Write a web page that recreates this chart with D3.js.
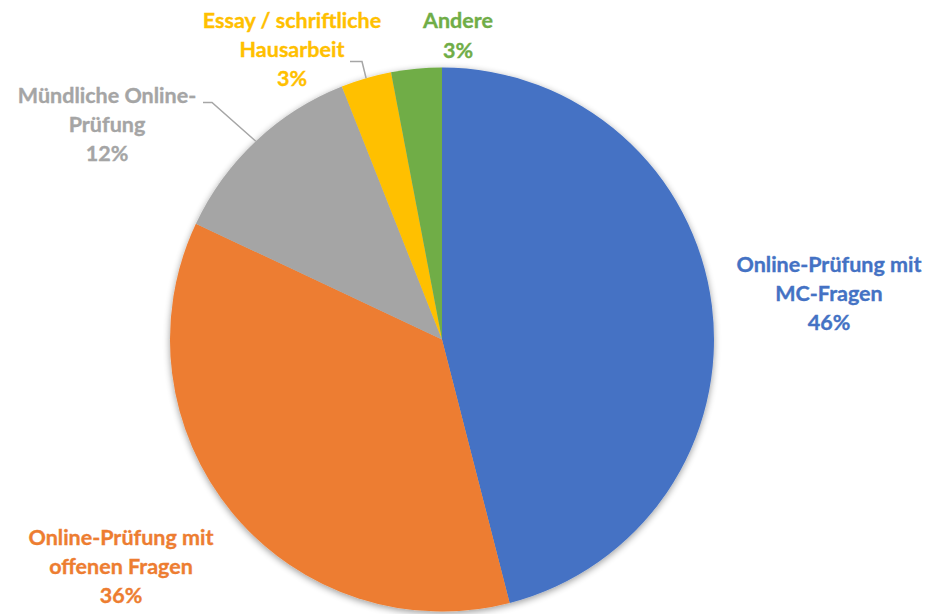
<!DOCTYPE html>
<html>
<head>
<meta charset="utf-8">
<script src="https://cdn.jsdelivr.net/npm/d3@7"></script>
<style>
  html, body { margin: 0; padding: 0; background: #ffffff; }
  svg { display: block; }
  text { font-family: Lato, "Open Sans", sans-serif; font-weight: 700; }
</style>
</head>
<body>
<svg id="chart" width="929" height="614"></svg>
<script>
// Exam formats (share of responses, %)
const categories = [
  "Online-Prüfung mit MC-Fragen",
  "Online-Prüfung mit offenen Fragen",
  "Mündliche Online-Prüfung",
  "Essay / schriftliche Hausarbeit",
  "Andere"
];
const shares = [46, 36, 12, 3, 3];
const labelLines = [
  ["Online-Prüfung mit", "MC-Fragen"],
  ["Online-Prüfung mit", "offenen Fragen"],
  ["Mündliche Online-", "Prüfung"],
  ["Essay / schriftliche", "Hausarbeit"],
  ["Andere"]
];
const colors = ["#4472C4", "#ED7D31", "#A5A5A5", "#FFC000", "#70AD47"];

const width = 929, height = 614;
const cx = 442, cy = 339.5, radius = 272;

// Label placement: centre of the text block relative to the pie centre,
// plus optional leader line (horizontal stub start/end, relative to pie centre)
const labelPlacement = [
  { dx: 387, dy: -42 },
  { dx: -321, dy: 231 },
  { dx: -335, dy: -211, leader: { x0: -239, x1: -230, y: -237 } },
  { dx: -150, dy: -286, leader: { x0: -92, x1: -80, y: -278 } },
  { dx: 16, dy: -300 }
];

const svg = d3.select("#chart");

const defs = svg.append("defs");
const shadow = defs.append("filter")
  .attr("id", "pieShadow")
  .attr("x", "-10%").attr("y", "-10%")
  .attr("width", "120%").attr("height", "120%");
shadow.append("feGaussianBlur").attr("in", "SourceAlpha").attr("stdDeviation", 3.5).attr("result", "blur");
shadow.append("feOffset").attr("in", "blur").attr("dx", 0).attr("dy", 1.5).attr("result", "off");
shadow.append("feComponentTransfer").attr("in", "off").attr("result", "soft")
  .append("feFuncA").attr("type", "linear").attr("slope", 0.4);
const merge = shadow.append("feMerge");
merge.append("feMergeNode").attr("in", "soft");
merge.append("feMergeNode").attr("in", "SourceGraphic");

const data = categories.map((c, i) => ({ name: c, value: shares[i], idx: i }));

const pie = d3.pie().value(d => d.value).sort(null);
const arcs = pie(data);
const arc = d3.arc().innerRadius(0).outerRadius(radius);

const g = svg.append("g").attr("transform", `translate(${cx},${cy})`);

g.append("g").attr("filter", "url(#pieShadow)")
  .selectAll("path")
  .data(arcs)
  .join("path")
  .attr("d", arc)
  .attr("fill", d => colors[d.data.idx]);

// Leader lines from label to the slice's outer edge at its mid angle
arcs.forEach(a => {
  const p = labelPlacement[a.data.idx];
  if (!p.leader) return;
  const mid = (a.startAngle + a.endAngle) / 2;
  const ex = radius * Math.sin(mid), ey = -radius * Math.cos(mid);
  g.append("polyline")
    .attr("points", `${p.leader.x0},${p.leader.y} ${p.leader.x1},${p.leader.y} ${ex},${ey}`)
    .attr("fill", "none")
    .attr("stroke", "#A6A6A6")
    .attr("stroke-width", 1.5);
});

// Labels: category lines plus percentage
const lineH = 29.4;
const fmt = d => d3.format(".0f")(d) + "%";
arcs.forEach(a => {
  const i = a.data.idx;
  const p = labelPlacement[i];
  const lines = labelLines[i].concat([fmt(a.data.value)]);
  const n = lines.length;
  const t = g.append("text")
    .attr("text-anchor", "middle")
    .attr("fill", colors[i])
    .attr("font-size", 21.5)
    .attr("stroke", colors[i])
    .attr("stroke-width", 0.35);
  lines.forEach((ln, k) => {
    t.append("tspan")
      .attr("x", p.dx)
      .attr("y", p.dy + (k - (n - 1) / 2) * lineH + 3.5)
      .text(ln);
  });
});
</script>
</body>
</html>
